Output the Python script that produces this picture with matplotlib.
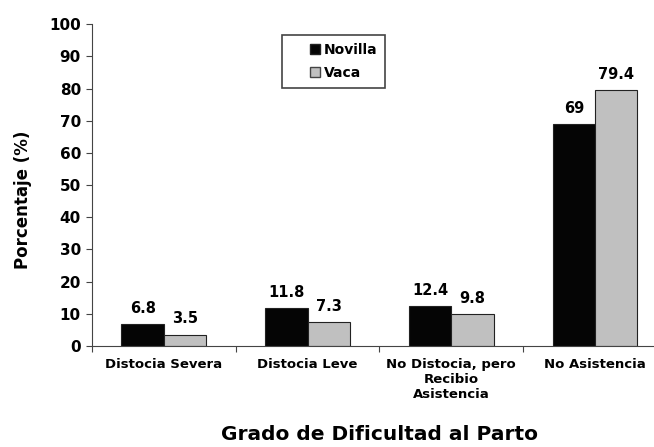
import matplotlib
matplotlib.use("Agg")
import matplotlib.pyplot as plt
from matplotlib.lines import Line2D
import numpy as np

# Datos del gráfico
categorias = ["Distocia Severa", "Distocia Leve",
              "No Distocia, pero\nRecibio\nAsistencia", "No Asistencia"]
novilla = [6.8, 11.8, 12.4, 69]
vaca = [3.5, 7.3, 9.8, 79.4]
etiquetas_novilla = ["6.8", "11.8", "12.4", "69"]
etiquetas_vaca = ["3.5", "7.3", "9.8", "79.4"]

plt.rcParams["font.family"] = ["DejaVu Sans"]
plt.rcParams["font.weight"] = "bold"

fig = plt.figure(figsize=(6.54, 4.47), dpi=100)
ax = fig.add_axes([0.1407, 0.226, 0.879, 0.720])

x = np.arange(len(categorias))
ancho = 0.295
b1 = ax.bar(x - ancho / 2, novilla, ancho, color="#050505", edgecolor="#222222", linewidth=0.8)
b2 = ax.bar(x + ancho / 2, vaca, ancho, color="#c0c0c0", edgecolor="#222222", linewidth=0.8)

for barras, etiquetas in [(b1, etiquetas_novilla), (b2, etiquetas_vaca)]:
    for barra, txt in zip(barras, etiquetas):
        ax.annotate(txt, (barra.get_x() + barra.get_width() / 2, barra.get_height()),
                    xytext=(0, 6), textcoords="offset points",
                    ha="center", va="bottom", fontsize=10.5, fontweight="bold")

ax.set_xlim(-0.5, 3.5)
ax.set_ylim(0, 100)
ax.set_yticks(range(0, 101, 10))
ax.tick_params(axis="y", labelsize=11, length=4, width=0.8, color="#444444", pad=4)

ax.set_xticks(x)
ax.set_xticklabels(categorias, fontsize=9.5, fontweight="bold")
ax.tick_params(axis="x", which="major", length=0, pad=9)
ax.set_xticks(np.arange(-0.5, 4, 1), minor=True)
ax.tick_params(axis="x", which="minor", length=4, width=0.8, color="#444444")

for lbl in ax.get_yticklabels():
    lbl.set_fontweight("bold")

ax.spines["top"].set_visible(False)
ax.spines["right"].set_visible(False)
ax.spines["left"].set_color("#444444")
ax.spines["bottom"].set_color("#444444")
ax.spines["left"].set_linewidth(0.8)
ax.spines["bottom"].set_linewidth(0.8)

ax.set_ylabel("Porcentaje (%)", fontsize=12, fontweight="bold")
ax.yaxis.set_label_coords(-0.105, 0.453)
ax.set_xlabel("Grado de Dificultad al Parto", fontsize=14.5, fontweight="bold")
ax.xaxis.set_label_coords(0.5, -0.245)

handles = [
    Line2D([], [], marker="s", linestyle="none", markersize=7,
           markerfacecolor="#050505", markeredgecolor="#222222"),
    Line2D([], [], marker="s", linestyle="none", markersize=7,
           markerfacecolor="#c0c0c0", markeredgecolor="#444444"),
]
leg = fig.legend(handles, ["Novilla", "Vaca"], loc="upper left",
                 bbox_to_anchor=(0.431, 0.922), bbox_transform=fig.transFigure,
                 borderaxespad=0,
                 fancybox=False, edgecolor="#444444", framealpha=1,
                 handlelength=3.6, handletextpad=-1.2, borderpad=0.6,
                 labelspacing=0.6, numpoints=1,
                 prop={"size": 10, "weight": "bold"})
leg.get_frame().set_linewidth(1.2)

fig.savefig("out.png", dpi=100)
